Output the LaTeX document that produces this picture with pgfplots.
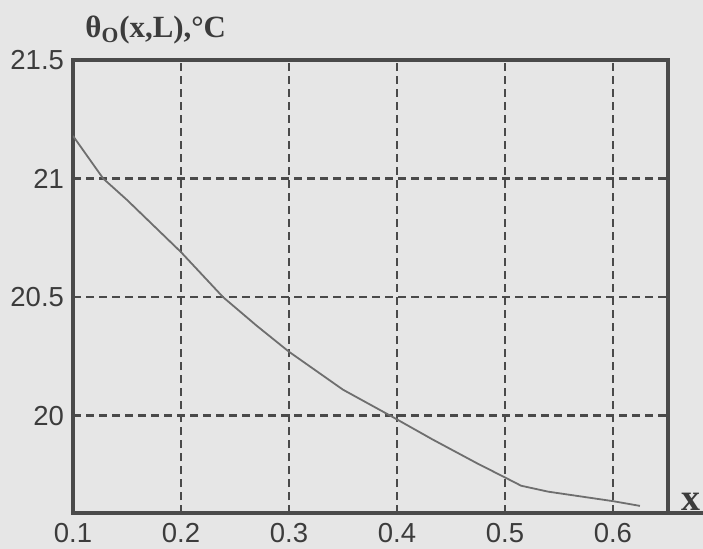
\documentclass[border=0pt]{standalone}
\usepackage{fontspec}
\setmainfont{Liberation Sans}
\newfontfamily\serifbf{Liberation Serif}
\usepackage{pgfplots}
\pgfplotsset{compat=1.18}
\usetikzlibrary{backgrounds}
\definecolor{bg}{HTML}{E6E6E6}
\definecolor{ink}{HTML}{4A4A4A}
\definecolor{txt}{HTML}{3C3C3C}
\definecolor{curve}{HTML}{6E6E6E}

\begin{document}
\begin{tikzpicture}
\begin{axis}[
    name=ax,
    scale only axis,
    width=297.5bp, height=226.5bp,
    xmin=0.1, xmax=0.651, ymin=19.59, ymax=21.5,
    xtick={0.1,0.2,0.3,0.4,0.5,0.6},
    ytick={20,20.5,21,21.5},
    grid=major,
    major grid style={ink, line width=1.3bp, dash pattern=on 4bp off 2.5bp},
    axis line style={ink, line width=1.6bp},
    tick style={ink, line width=0.8bp},
    major tick length=3bp,
    tick align=inside,
    xtick pos=bottom, ytick pos=left,
    tick label style={font=\fontsize{13.8}{15}\selectfont, text=txt},
    /pgf/number format/assume math mode=true,
    /pgf/number format/fixed,
    yticklabel style={xshift=-1bp},
    xticklabel style={yshift=-1.5bp},
]
% theta_O(x,L)
\addplot[curve, line width=0.9bp] coordinates {
    (0.100,21.18) (0.128,21.00) (0.150,20.91) (0.200,20.69) (0.239,20.50)
    (0.270,20.38) (0.300,20.27) (0.350,20.11) (0.394,20.00) (0.433,19.90)
    (0.474,19.80) (0.500,19.74) (0.515,19.705) (0.540,19.68) (0.600,19.64)
    (0.625,19.62)
};
\end{axis}
\draw[ink, line width=1.6bp] (ax.south east) -- ++(17.5bp,0);
\node[anchor=base west, inner sep=0, text=txt,
      font=\serifbf\bfseries\fontsize{15.5}{17}\selectfont]
    at ([xshift=6bp, yshift=11bp]ax.north west) {θ\textsubscript{O}(x,L),°C};
\node[anchor=base west, inner sep=0, text=txt,
      font=\serifbf\bfseries\fontsize{19}{20}\selectfont]
    at ([xshift=6.5bp, yshift=1.5bp]ax.south east) {x};
\pgfresetboundingbox
\path ([xshift=-36.5bp, yshift=-18bp]ax.south west) coordinate (bl);
\path ([xshift=17.5bp, yshift=30bp]ax.north east) coordinate (tr);
\begin{scope}[on background layer]
\fill[bg] (bl) rectangle (tr);
\end{scope}
\end{tikzpicture}
\end{document}
